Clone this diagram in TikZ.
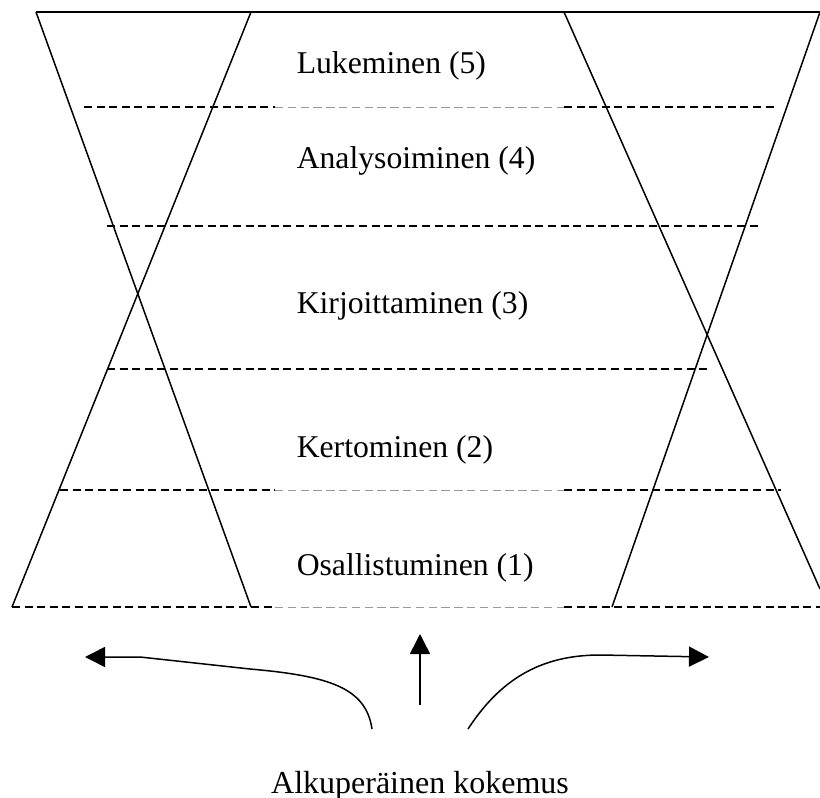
\documentclass[tikz,border=0pt]{standalone}
\usepackage{fontspec}
\setmainfont{Liberation Serif}
\usepackage{tikz}
\usetikzlibrary{arrows.meta}
\def\drawdash{\draw[line width=0.65pt, dash pattern=on 4pt off 2.3pt]}
\def\drawfaint{\draw[color=black!40, line width=0.4pt, dash pattern=on 4.2pt off 2.2pt]}
\def\stagenode{\node[anchor=base west, inner sep=0pt, font=\fontsize{15.85}{19}\selectfont]}

\begin{document}
\begin{tikzpicture}[x=0.5pt,y=-0.5pt,line width=0.75pt,
  tip/.style={-{Triangle[length=10pt,width=10pt]}}]
\useasboundingbox (0,0) rectangle (820,798);

% ---------- the top edge
\coordinate (top_l) at (36,12);
\coordinate (top_r) at (820,12);
\draw[line width=1pt] (top_l) to (top_r);

% ---------- LEFT hourglass
\coordinate (l_out_top) at (36,12);
\coordinate (l_in_top) at (251,12);
\coordinate (l_out_bot) at (12,607);
\coordinate (l_in_bot) at (251,607);
\draw (l_out_top) to (l_in_bot);
\draw (l_in_top) to (l_out_bot);

% ---------- RIGHT hourglass
\coordinate (r_in_top) at (564,12);
\coordinate (r_out_top) at (820,12);
\coordinate (r_in_bot) at (612,607);
\coordinate (r_out_bot) at (820,589); % runs off the page edge
\draw (r_in_top) to (r_out_bot);
\draw (r_out_top) to (r_in_bot);

% ---------- level separators (dark at the sides, faint in the middle)
\drawdash (84,107) to (275,107);
\drawfaint (275,107) to (564,107);
\drawdash (564,107) to (778,107);

\drawdash (107,226) to (758,226);

\drawdash (107,369) to (708,369);

\drawdash (60,490) to (275,490);
\drawfaint (275,490) to (564,490);
\drawdash (564,490) to (781,490);

\drawdash (12,607) to (275,607);
\drawfaint (275,607) to (564,607);
\drawdash (564,607) to (820,607);

% ---------- the five levels
\stagenode (read) at (296,73) {Lukeminen (5)};
\stagenode (analyse) at (296,168) {Analysoiminen (4)};
\stagenode (write) at (296,313) {Kirjoittaminen (3)};
\stagenode (tell) at (296,457) {Kertominen (2)};
\stagenode (join) at (296,575) {Osallistuminen (1)};

% ---------- arrows out of the experience
\node[anchor=base, inner sep=0pt, font=\fontsize{16}{19}\selectfont] (origin) at (420,793) {Alkuperäinen kokemus};
\coordinate (left_start) at (372,729);
\coordinate (left_bend) at (250,669);
\coordinate (left_tip) at (85,657);
\draw[tip] (left_start) .. controls (366,688) and (330,676) .. (left_bend) -- (140,657) -- (left_tip);

\coordinate (mid_start) at (420,705);
\coordinate (mid_tip) at (420,634);
\draw[tip] (mid_start) to (mid_tip);

\coordinate (right_start) at (468,729);
\coordinate (right_bend) at (600,655);
\coordinate (right_tip) at (709,657);
\draw[tip] (right_start) .. controls (500,680) and (540,655) .. (right_bend) -- (right_tip);
\end{tikzpicture}
\end{document}
